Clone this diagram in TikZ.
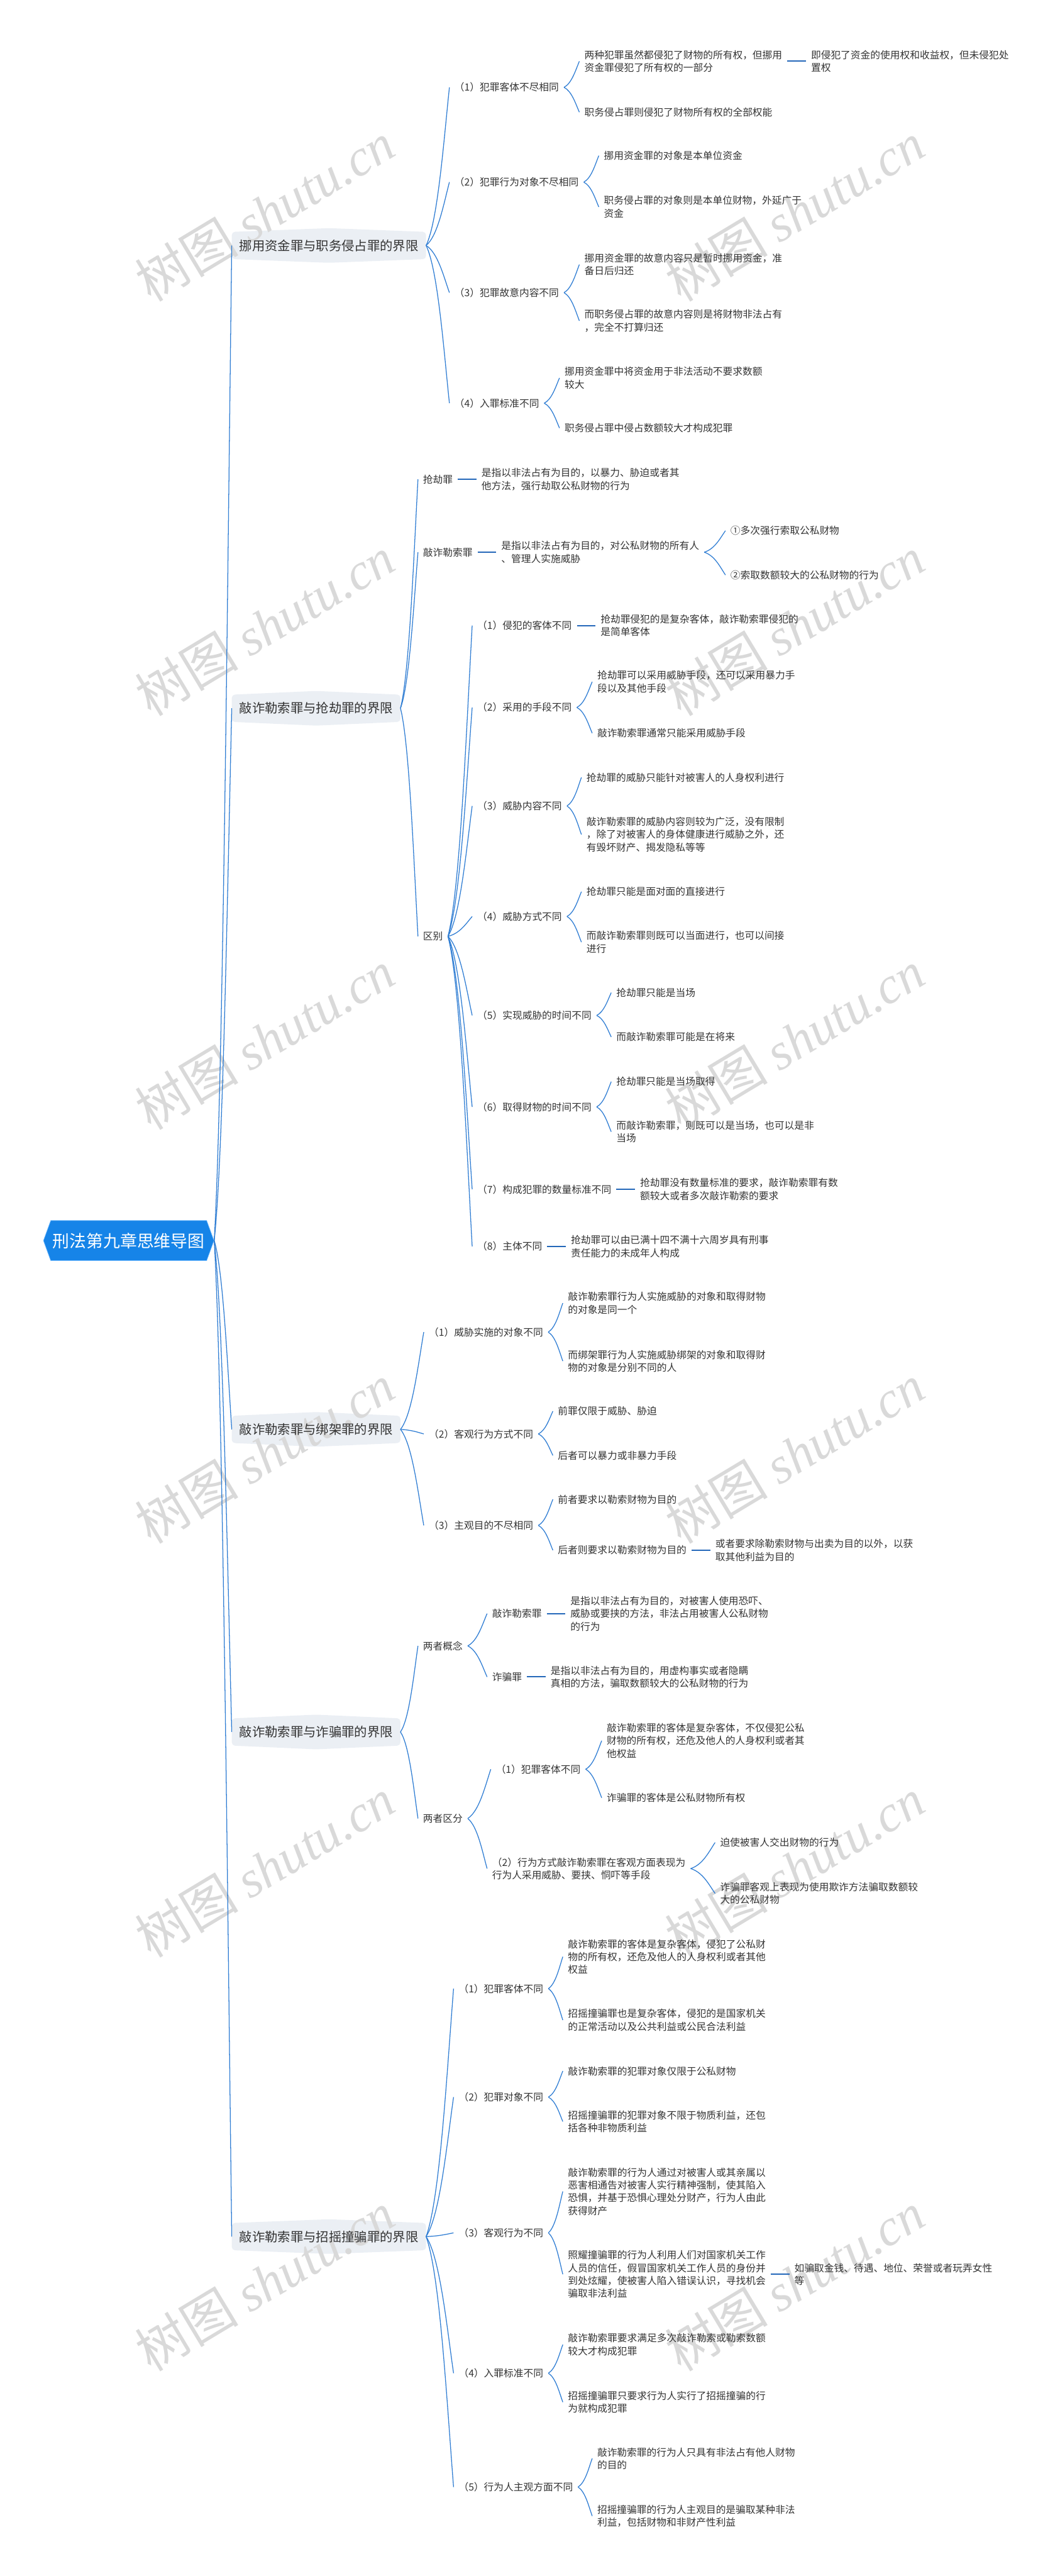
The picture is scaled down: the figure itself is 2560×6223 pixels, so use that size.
\documentclass[tikz,border=0pt]{standalone}
\usepackage{fontspec}
\setmainfont{Noto Sans CJK SC}
\newfontfamily\markfont{Liberation Serif}
\usetikzlibrary{shapes.symbols, positioning, backgrounds, calc}

\definecolor{mapline}{HTML}{2F7DD3}
\definecolor{tieblue}{HTML}{2367B9}
\definecolor{rootblue}{HTML}{1684E8}
\definecolor{rootedge}{HTML}{7CC0FF}
\definecolor{topicfill}{HTML}{EBEFF4}
\definecolor{inktext}{HTML}{333333}
\definecolor{markgray}{HTML}{D9D9D9}

\begin{document}
\begin{tikzpicture}[
  x=0.02cm, y=-0.02cm,
  node distance=0.9cm,
  every node/.style={text=inktext},
  root/.style={signal, signal to=east and west, signal pointer angle=140,
    fill=rootblue, draw=rootedge, line width=0.6pt, text=white,
    font=\fontsize{23.2}{28}\selectfont, minimum height=1.94cm, inner xsep=0.1cm},
  topic/.style={anchor=west, inner xsep=0.36cm, minimum height=1.3cm,
    font=\fontsize{17.6}{21}\selectfont},
  sub/.style={anchor=west, align=left, inner xsep=0.24cm, inner ysep=2pt,
    font=\fontsize{13.6}{17.6}\selectfont},
  branch/.style={draw=mapline, line width=1.1pt,
    to path={let \p1=(\tikztostart), \p2=(\tikztotarget), \n1={\x2-\x1}, \n2={\y2-\y1} in
      .. controls +({0.5*\n1},{0.15*\n2}) and +({-0.25*\n1},{-0.35*\n2}) .. (\tikztotarget)}},
  tie/.style={draw=tieblue, line width=1.8pt},
  wmark/.style={text=markgray, rotate=31, font=\fontsize{71}{71}\selectfont}
]
\useasboundingbox (0,0) rectangle (2560,6223);

% ---- ROOT ----
\node[root] (chapter) at (311,2997) {刑法第九章思维导图};

% ---- TOPICS ----
\node[topic] (tfund) at (560,593) {挪用资金罪与职务侵占罪的界限};
\node[topic] (trob) at (560,1711) {敲诈勒索罪与抢劫罪的界限};
\node[topic] (tkid) at (560,3453) {敲诈勒索罪与绑架罪的界限};
\node[topic] (tcheat) at (560,4184) {敲诈勒索罪与诈骗罪的界限};
\node[topic] (tswin) at (560,5403) {敲诈勒索罪与招摇撞骗罪的界限};
\draw[branch] (chapter.east) to (tfund.west);
\draw[branch] (chapter.east) to (trob.west);
\draw[branch] (chapter.east) to (tkid.west);
\draw[branch] (chapter.east) to (tcheat.west);
\draw[branch] (chapter.east) to (tswin.west);

% ---- 挪用资金罪与职务侵占罪 ----
\node[sub] (a1) at (1086,211) {（1）犯罪客体不尽相同};
\node[sub] (a1x) at (1400,148) {两种犯罪虽然都侵犯了财物的所有权，但挪用\\资金罪侵犯了所有权的一部分};
\node[sub, right=of a1x] (a1xx) {即侵犯了资金的使用权和收益权，但未侵犯处\\置权};
\node[sub] (a1y) at (1400,271) {职务侵占罪则侵犯了财物所有权的全部权能};
\node[sub] (a2) at (1086,440) {（2）犯罪行为对象不尽相同};
\node[sub] (a2x) at (1447,376) {挪用资金罪的对象是本单位资金};
\node[sub] (a2y) at (1447,500) {职务侵占罪的对象则是本单位财物，外延广于\\资金};
\node[sub] (a3) at (1086,707) {（3）犯罪故意内容不同};
\node[sub] (a3x) at (1400,639) {挪用资金罪的故意内容只是暂时挪用资金，准\\备日后归还};
\node[sub] (a3y) at (1400,775) {而职务侵占罪的故意内容则是将财物非法占有\\，完全不打算归还};
\node[sub] (a4) at (1086,974) {（4）入罪标准不同};
\node[sub] (a4x) at (1352,913) {挪用资金罪中将资金用于非法活动不要求数额\\较大};
\node[sub] (a4y) at (1352,1034) {职务侵占罪中侵占数额较大才构成犯罪};
\draw[branch] (tfund.east) to (a1.west);
\draw[branch] (tfund.east) to (a2.west);
\draw[branch] (tfund.east) to (a3.west);
\draw[branch] (tfund.east) to (a4.west);
\draw[branch] (a1.east) to (a1x.west);
\draw[branch] (a1.east) to (a1y.west);
\draw[tie] (a1x) -- (a1xx);
\draw[branch] (a2.east) to (a2x.west);
\draw[branch] (a2.east) to (a2y.west);
\draw[branch] (a3.east) to (a3x.west);
\draw[branch] (a3.east) to (a3y.west);
\draw[branch] (a4.east) to (a4x.west);
\draw[branch] (a4.east) to (a4y.west);

% ---- 敲诈勒索罪与抢劫罪 ----
\node[sub] (rob) at (1010,1158) {抢劫罪};
\node[sub, right=of rob] (robdef) {是指以非法占有为目的，以暴力、胁迫或者其\\他方法，强行劫取公私财物的行为};
\node[sub] (ext) at (1010,1334) {敲诈勒索罪};
\node[sub, right=of ext] (extdef) {是指以非法占有为目的，对公私财物的所有人\\、管理人实施威胁};
\node[sub] (ext1) at (1753,1282) {①多次强行索取公私财物};
\node[sub] (ext2) at (1753,1389) {②索取数额较大的公私财物的行为};
\node[sub] (diff) at (1010,2262) {区别};
\node[sub] (d1) at (1141,1511) {（1）侵犯的客体不同};
\node[sub, right=of d1] (d1x) {抢劫罪侵犯的是复杂客体，敲诈勒索罪侵犯的\\是简单客体};
\node[sub] (d2) at (1141,1709) {（2）采用的手段不同};
\node[sub] (d2x) at (1431,1647) {抢劫罪可以采用威胁手段，还可以采用暴力手\\段以及其他手段};
\node[sub] (d2y) at (1431,1771) {敲诈勒索罪通常只能采用威胁手段};
\node[sub] (d3) at (1141,1947) {（3）威胁内容不同};
\node[sub] (d3x) at (1405,1878) {抢劫罪的威胁只能针对被害人的人身权利进行};
\node[sub] (d3y) at (1405,2016) {敲诈勒索罪的威胁内容则较为广泛，没有限制\\，除了对被害人的身体健康进行威胁之外，还\\有毁坏财产、揭发隐私等等};
\node[sub] (d4) at (1141,2214) {（4）威胁方式不同};
\node[sub] (d4x) at (1405,2154) {抢劫罪只能是面对面的直接进行};
\node[sub] (d4y) at (1405,2276) {而敲诈勒索罪则既可以当面进行，也可以间接\\进行};
\node[sub] (d5) at (1141,2453) {（5）实现威胁的时间不同};
\node[sub] (d5x) at (1477,2398) {抢劫罪只能是当场};
\node[sub] (d5y) at (1477,2505) {而敲诈勒索罪可能是在将来};
\node[sub] (d6) at (1141,2674) {（6）取得财物的时间不同};
\node[sub] (d6x) at (1477,2613) {抢劫罪只能是当场取得};
\node[sub] (d6y) at (1477,2734) {而敲诈勒索罪，则既可以是当场，也可以是非\\当场};
\node[sub] (d7) at (1141,2873) {（7）构成犯罪的数量标准不同};
\node[sub, right=of d7] (d7x) {抢劫罪没有数量标准的要求，敲诈勒索罪有数\\额较大或者多次敲诈勒索的要求};
\node[sub] (d8) at (1141,3011) {（8）主体不同};
\node[sub, right=of d8] (d8x) {抢劫罪可以由已满十四不满十六周岁具有刑事\\责任能力的未成年人构成};
\draw[branch] (trob.east) to (rob.west);
\draw[branch] (trob.east) to (ext.west);
\draw[branch] (trob.east) to (diff.west);
\draw[tie] (rob) -- (robdef);
\draw[tie] (ext) -- (extdef);
\draw[branch] (extdef.east) to (ext1.west);
\draw[branch] (extdef.east) to (ext2.west);
\draw[branch] (diff.east) to (d1.west);
\draw[branch] (diff.east) to (d2.west);
\draw[branch] (diff.east) to (d3.west);
\draw[branch] (diff.east) to (d4.west);
\draw[branch] (diff.east) to (d5.west);
\draw[branch] (diff.east) to (d6.west);
\draw[branch] (diff.east) to (d7.west);
\draw[branch] (diff.east) to (d8.west);
\draw[tie] (d1) -- (d1x);
\draw[branch] (d2.east) to (d2x.west);
\draw[branch] (d2.east) to (d2y.west);
\draw[branch] (d3.east) to (d3x.west);
\draw[branch] (d3.east) to (d3y.west);
\draw[branch] (d4.east) to (d4x.west);
\draw[branch] (d4.east) to (d4y.west);
\draw[branch] (d5.east) to (d5x.west);
\draw[branch] (d5.east) to (d5y.west);
\draw[branch] (d6.east) to (d6x.west);
\draw[branch] (d6.east) to (d6y.west);
\draw[tie] (d7) -- (d7x);
\draw[tie] (d8) -- (d8x);

% ---- 敲诈勒索罪与绑架罪 ----
\node[sub] (k1) at (1024,3218) {（1）威胁实施的对象不同};
\node[sub] (k1x) at (1360,3148) {敲诈勒索罪行为人实施威胁的对象和取得财物\\的对象是同一个};
\node[sub] (k1y) at (1360,3288) {而绑架罪行为人实施威胁绑架的对象和取得财\\物的对象是分别不同的人};
\node[sub] (k2) at (1024,3464) {（2）客观行为方式不同};
\node[sub] (k2x) at (1336,3409) {前罪仅限于威胁、胁迫};
\node[sub] (k2y) at (1336,3516) {后者可以暴力或非暴力手段};
\node[sub] (k3) at (1024,3685) {（3）主观目的不尽相同};
\node[sub] (k3x) at (1336,3622) {前者要求以勒索财物为目的};
\node[sub] (k3y) at (1336,3745) {后者则要求以勒索财物为目的};
\node[sub, right=of k3y] (k3yy) {或者要求除勒索财物与出卖为目的以外，以获\\取其他利益为目的};
\draw[branch] (tkid.east) to (k1.west);
\draw[branch] (tkid.east) to (k2.west);
\draw[branch] (tkid.east) to (k3.west);
\draw[branch] (k1.east) to (k1x.west);
\draw[branch] (k1.east) to (k1y.west);
\draw[branch] (k2.east) to (k2x.west);
\draw[branch] (k2.east) to (k2y.west);
\draw[branch] (k3.east) to (k3x.west);
\draw[branch] (k3.east) to (k3y.west);
\draw[tie] (k3y) -- (k3yy);

% ---- 敲诈勒索罪与诈骗罪 ----
\node[sub] (concept) at (1010,3976) {两者概念};
\node[sub] (cext) at (1177,3898) {敲诈勒索罪};
\node[sub, right=of cext] (cextdef) {是指以非法占有为目的，对被害人使用恐吓、\\威胁或要挟的方法，非法占用被害人公私财物\\的行为};
\node[sub] (cfraud) at (1177,4051) {诈骗罪};
\node[sub, right=of cfraud] (cfrauddef) {是指以非法占有为目的，用虚构事实或者隐瞒\\真相的方法，骗取数额较大的公私财物的行为};
\node[sub] (dist) at (1010,4393) {两者区分};
\node[sub] (s1) at (1186,4274) {（1）犯罪客体不同};
\node[sub] (s1x) at (1454,4205) {敲诈勒索罪的客体是复杂客体，不仅侵犯公私\\财物的所有权，还危及他人的人身权利或者其\\他权益};
\node[sub] (s1y) at (1454,4343) {诈骗罪的客体是公私财物所有权};
\node[sub] (s2) at (1177,4514) {（2）行为方式敲诈勒索罪在客观方面表现为\\行为人采用威胁、要挟、恫吓等手段};
\node[sub] (s2x) at (1728,4451) {迫使被害人交出财物的行为};
\node[sub] (s2y) at (1728,4574) {诈骗罪客观上表现为使用欺诈方法骗取数额较\\大的公私财物};
\draw[branch] (tcheat.east) to (concept.west);
\draw[branch] (tcheat.east) to (dist.west);
\draw[branch] (concept.east) to (cext.west);
\draw[branch] (concept.east) to (cfraud.west);
\draw[tie] (cext) -- (cextdef);
\draw[tie] (cfraud) -- (cfrauddef);
\draw[branch] (dist.east) to (s1.west);
\draw[branch] (dist.east) to (s2.west);
\draw[branch] (s1.east) to (s1x.west);
\draw[branch] (s1.east) to (s1y.west);
\draw[branch] (s2.east) to (s2x.west);
\draw[branch] (s2.east) to (s2y.west);

% ---- 敲诈勒索罪与招摇撞骗罪 ----
\node[sub] (e1) at (1096,4804) {（1）犯罪客体不同};
\node[sub] (e1x) at (1360,4727) {敲诈勒索罪的客体是复杂客体，侵犯了公私财\\物的所有权，还危及他人的人身权利或者其他\\权益};
\node[sub] (e1y) at (1360,4880) {招摇撞骗罪也是复杂客体，侵犯的是国家机关\\的正常活动以及公共利益或公民合法利益};
\node[sub] (e2) at (1096,5066) {（2）犯罪对象不同};
\node[sub] (e2x) at (1360,5003) {敲诈勒索罪的犯罪对象仅限于公私财物};
\node[sub] (e2y) at (1360,5125) {招摇撞骗罪的犯罪对象不限于物质利益，还包\\括各种非物质利益};
\node[sub] (e3) at (1096,5394) {（3）客观行为不同};
\node[sub] (e3x) at (1360,5294) {敲诈勒索罪的行为人通过对被害人或其亲属以\\恶害相通告对被害人实行精神强制，使其陷入\\恐惧，并基于恐惧心理处分财产，行为人由此\\获得财产};
\node[sub] (e3y) at (1360,5494) {照耀撞骗罪的行为人利用人们对国家机关工作\\人员的信任，假冒国家机关工作人员的身份并\\到处炫耀，使被害人陷入错误认识，寻找机会\\骗取非法利益};
\node[sub, right=of e3y] (e3yy) {如骗取金钱、待遇、地位、荣誉或者玩弄女性\\等};
\node[sub] (e4) at (1096,5733) {（4）入罪标准不同};
\node[sub] (e4x) at (1360,5664) {敲诈勒索罪要求满足多次敲诈勒索或勒索数额\\较大才构成犯罪};
\node[sub] (e4y) at (1360,5803) {招摇撞骗罪只要求行为人实行了招摇撞骗的行\\为就构成犯罪};
\node[sub] (e5) at (1096,6008) {（5）行为人主观方面不同};
\node[sub] (e5x) at (1431,5939) {敲诈勒索罪的行为人只具有非法占有他人财物\\的目的};
\node[sub] (e5y) at (1431,6078) {招摇撞骗罪的行为人主观目的是骗取某种非法\\利益，包括财物和非财产性利益};
\draw[branch] (tswin.east) to (e1.west);
\draw[branch] (tswin.east) to (e2.west);
\draw[branch] (tswin.east) to (e3.west);
\draw[branch] (tswin.east) to (e4.west);
\draw[branch] (tswin.east) to (e5.west);
\draw[branch] (e1.east) to (e1x.west);
\draw[branch] (e1.east) to (e1y.west);
\draw[branch] (e2.east) to (e2x.west);
\draw[branch] (e2.east) to (e2y.west);
\draw[branch] (e3.east) to (e3x.west);
\draw[branch] (e3.east) to (e3y.west);
\draw[tie] (e3y) -- (e3yy);
\draw[branch] (e4.east) to (e4x.west);
\draw[branch] (e4.east) to (e4y.west);
\draw[branch] (e5.east) to (e5x.west);
\draw[branch] (e5.east) to (e5y.west);

% ---- FUNDOS ----
\begin{scope}[on background layer]
  \fill[topicfill, rounded corners=0.16cm] (tfund.south west) -- (tfund.north west) -- ([yshift=0.18cm]tfund.north) -- (tfund.north east) -- (tfund.south east) -- ([yshift=-0.18cm]tfund.south) -- cycle;
  \fill[topicfill, rounded corners=0.16cm] (trob.south west) -- (trob.north west) -- ([yshift=0.18cm]trob.north) -- (trob.north east) -- (trob.south east) -- ([yshift=-0.18cm]trob.south) -- cycle;
  \fill[topicfill, rounded corners=0.16cm] (tkid.south west) -- (tkid.north west) -- ([yshift=0.18cm]tkid.north) -- (tkid.north east) -- (tkid.south east) -- ([yshift=-0.18cm]tkid.south) -- cycle;
  \fill[topicfill, rounded corners=0.16cm] (tcheat.south west) -- (tcheat.north west) -- ([yshift=0.18cm]tcheat.north) -- (tcheat.north east) -- (tcheat.south east) -- ([yshift=-0.18cm]tcheat.south) -- cycle;
  \fill[topicfill, rounded corners=0.16cm] (tswin.south west) -- (tswin.north west) -- ([yshift=0.18cm]tswin.north) -- (tswin.north east) -- (tswin.south east) -- ([yshift=-0.18cm]tswin.south) -- cycle;
  % watermark
  \node[wmark] (wm1) at (640,512) {树图 {\markfont\itshape shutu.cn}};
  \node[wmark] (wm2) at (1920,512) {树图 {\markfont\itshape shutu.cn}};
  \node[wmark] (wm3) at (640,1512) {树图 {\markfont\itshape shutu.cn}};
  \node[wmark] (wm4) at (1920,1512) {树图 {\markfont\itshape shutu.cn}};
  \node[wmark] (wm5) at (640,2512) {树图 {\markfont\itshape shutu.cn}};
  \node[wmark] (wm6) at (1920,2512) {树图 {\markfont\itshape shutu.cn}};
  \node[wmark] (wm7) at (640,3512) {树图 {\markfont\itshape shutu.cn}};
  \node[wmark] (wm8) at (1920,3512) {树图 {\markfont\itshape shutu.cn}};
  \node[wmark] (wm9) at (640,4512) {树图 {\markfont\itshape shutu.cn}};
  \node[wmark] (wm10) at (1920,4512) {树图 {\markfont\itshape shutu.cn}};
  \node[wmark] (wm11) at (640,5512) {树图 {\markfont\itshape shutu.cn}};
  \node[wmark] (wm12) at (1920,5512) {树图 {\markfont\itshape shutu.cn}};
\end{scope}
\end{tikzpicture}
\end{document}
